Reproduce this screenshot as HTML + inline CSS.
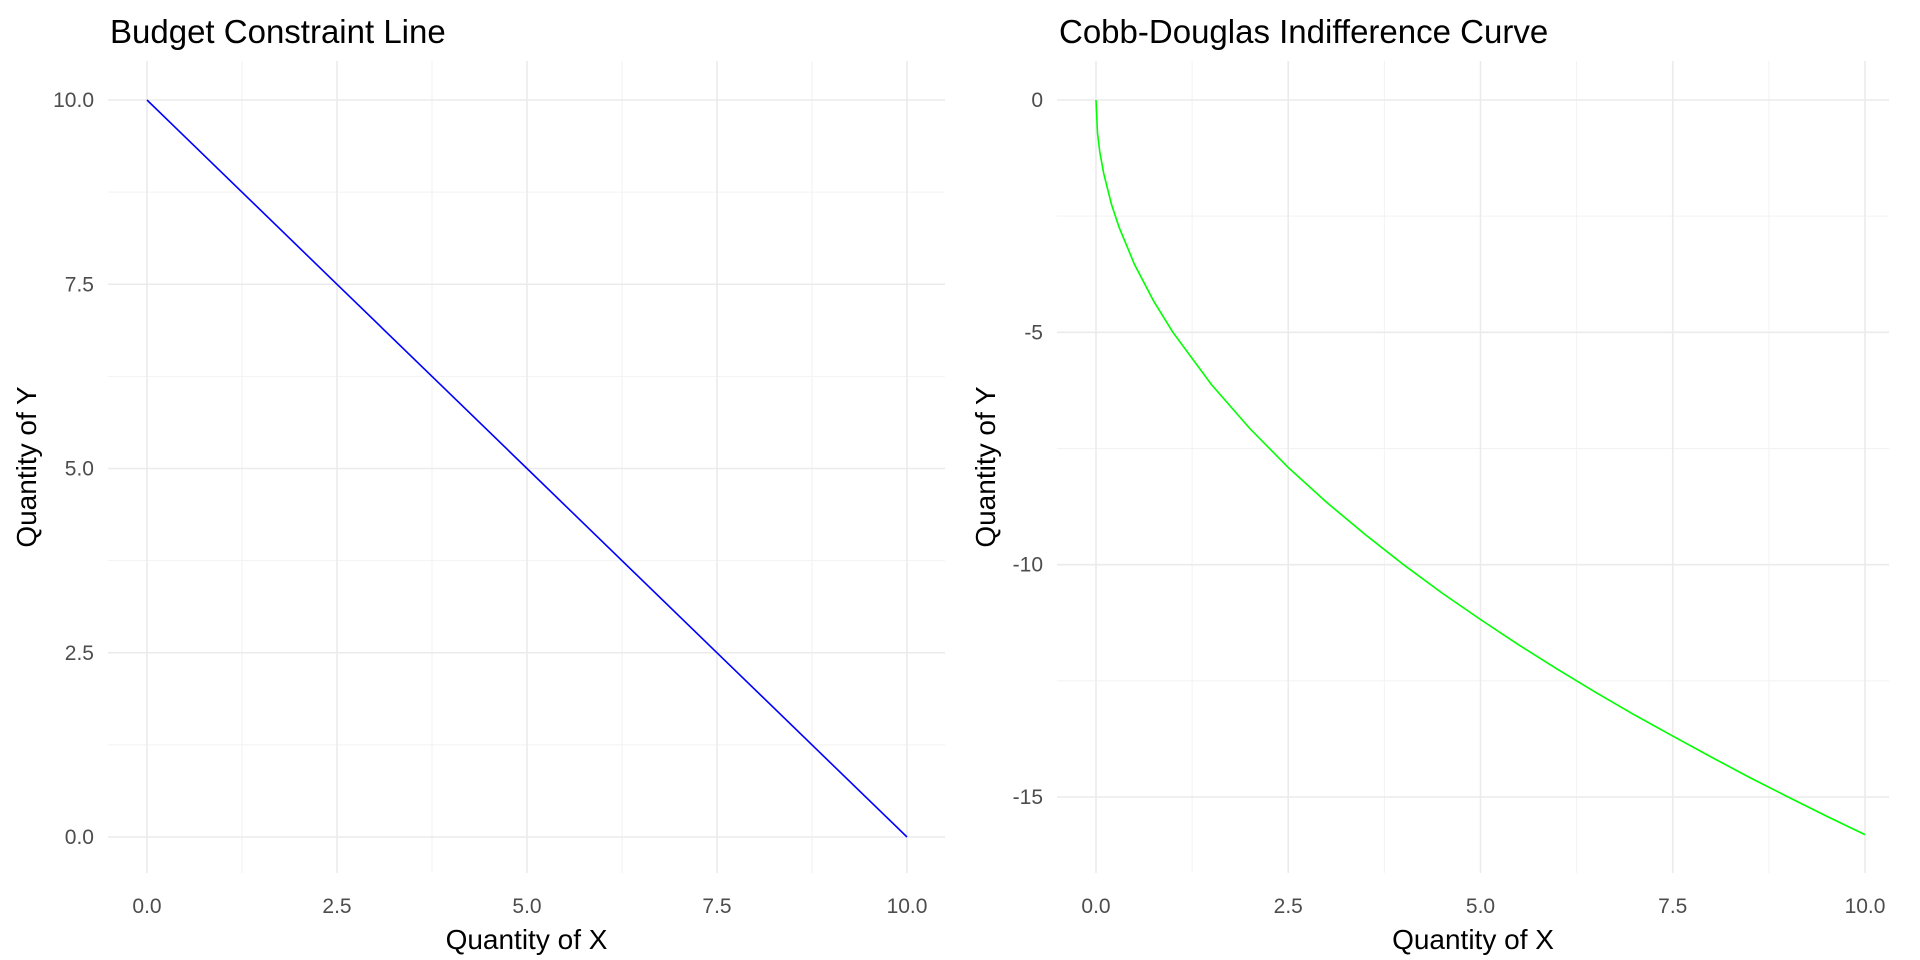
<!DOCTYPE html>
<html><head><meta charset="utf-8"><style>
body{margin:0;background:#fff;}
svg{display:block;font-family:"Liberation Sans",Arial,sans-serif;}
</style></head><body>
<svg id="c" width="1920" height="960"></svg>
<script>
const budgetX=[0,2.5,5,7.5,10];
const budgetY=[10,7.5,5,2.5,0];
const cdX=[0,0.02,0.05,0.1,0.2,0.3,0.5,0.75,1,1.5,2,2.5,3,3.5,4,4.5,5,5.5,6,6.5,7,7.5,8,8.5,9,9.5,10];
const cdY=[0,-0.71,-1.12,-1.58,-2.24,-2.74,-3.54,-4.33,-5,-6.12,-7.07,-7.91,-8.66,-9.35,-10,-10.61,-11.18,-11.73,-12.25,-12.75,-13.23,-13.69,-14.14,-14.58,-15,-15.41,-15.81];
const leftXTicks=["0.0","2.5","5.0","7.5","10.0"];
const leftYTicks=["0.0","2.5","5.0","7.5","10.0"];
const rightYTicks=["0","-5","-10","-15"];
const NS="http://www.w3.org/2000/svg";
const svg=document.getElementById('c');
function mk(t,a,txt){const e=document.createElementNS(NS,t);for(const k in a)e.setAttribute(k,a[k]);if(txt!==undefined)e.textContent=txt;svg.appendChild(e);return e;}
function panel(p){
  const sx=v=>p.x0+(v-p.xmin)/(p.xmax-p.xmin)*(p.x1-p.x0);
  const sy=v=>p.y0+(p.ymax-v)/(p.ymax-p.ymin)*(p.y1-p.y0);
  p.minX.forEach(v=>{const l=mk('line',{x1:sx(v),x2:sx(v),y1:p.top,y2:p.bot,stroke:'#f2f2f2','stroke-width':1});});
  p.minY.forEach(v=>{const l=mk('line',{x1:p.left,x2:p.right,y1:sy(v),y2:sy(v),stroke:'#f2f2f2','stroke-width':1});});
  p.xt.forEach(s=>{const v=parseFloat(s);const l=mk('line',{x1:sx(v),x2:sx(v),y1:p.top,y2:p.bot,stroke:'#ebebeb','stroke-width':1.6});
    const t=mk('text',{x:sx(v),y:913,'text-anchor':'middle','font-size':21,fill:'#4d4d4d'},s);});
  p.yt.forEach(s=>{const v=parseFloat(s);const l=mk('line',{x1:p.left,x2:p.right,y1:sy(v),y2:sy(v),stroke:'#ebebeb','stroke-width':1.6});
    const t=mk('text',{x:p.left-14,y:sy(v)+7,'text-anchor':'end','font-size':21,fill:'#4d4d4d'},s);});
  const d=p.xs.map((v,i)=>(i?'L':'M')+sx(v).toFixed(1)+' '+sy(p.ys[i]).toFixed(1)).join(' ');
  const pa=mk('path',{d:d,fill:'none',stroke:p.col,'stroke-width':1.6});
  
  const tt=mk('text',{x:p.left+2,y:43,'font-size':33,fill:'#000'},p.title);
  const xa=mk('text',{x:(p.left+p.right)/2,y:949,'text-anchor':'middle','font-size':28,fill:'#000'},'Quantity of X');
  const ya=mk('text',{x:0,y:0,'text-anchor':'middle','font-size':28,fill:'#000',transform:`translate(${p.yl},${(p.top+p.bot)/2}) rotate(-90)`},'Quantity of Y');
}
panel({x0:147,x1:907,xmin:0,xmax:10,y0:100,y1:837,ymin:0,ymax:10,left:108,right:945,top:61,bot:873,
  minX:[1.25,3.75,6.25,8.75],minY:[1.25,3.75,6.25,8.75],xt:leftXTicks,yt:leftYTicks,xs:budgetX,ys:budgetY,col:'#0000ff',name:'budget-line',title:'Budget Constraint Line',yl:36});
panel({x0:1096,x1:1865,xmin:0,xmax:10,y0:100,y1:797,ymin:-15,ymax:0,left:1057,right:1889,top:61,bot:873,
  minX:[1.25,3.75,6.25,8.75],minY:[-2.5,-7.5,-12.5],xt:leftXTicks,yt:rightYTicks,xs:cdX,ys:cdY,col:'#00ff00',name:'indifference-curve',title:'Cobb-Douglas Indifference Curve',yl:995});
</script>
</body></html>
